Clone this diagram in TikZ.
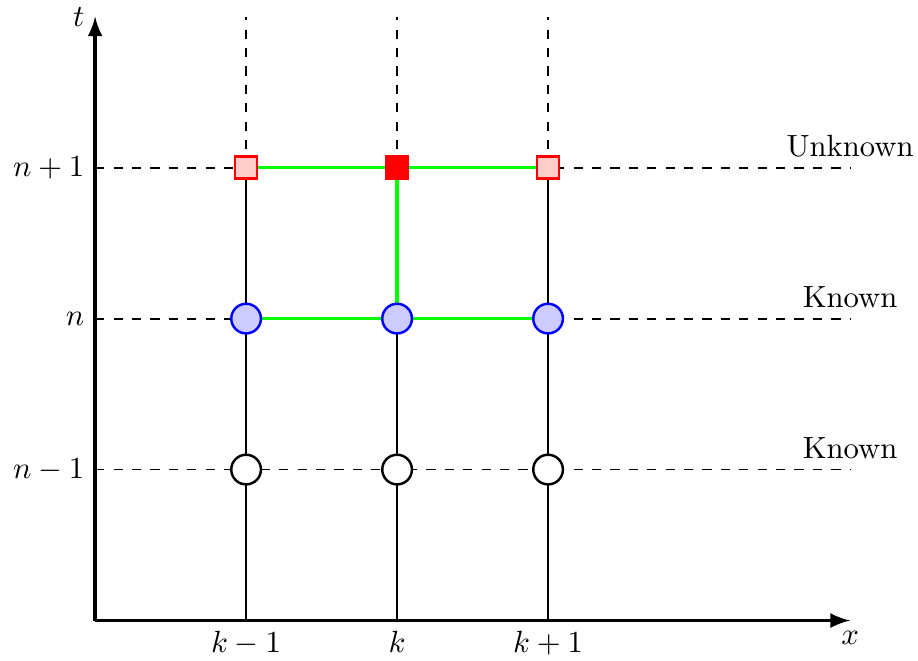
\documentclass[tikz,border=0pt]{standalone}
\usepackage{amsmath}

\begin{document}
\begin{tikzpicture}[x=1.73cm, y=1.73cm,
        axis/.style={very thick, -latex},
        level/.style={semithick, dashed},
        stencil/.style={green, very thick},
        old/.style={circle, draw, thick, fill=white, minimum size=0.34cm, inner sep=0pt},
        known/.style={circle, draw=blue, thick, fill=blue!20, minimum size=0.34cm, inner sep=0pt},
        unknown/.style={rectangle, draw=red, thick, fill=red!20, minimum size=0.25cm, inner sep=0pt},
        target/.style={rectangle, draw=red, fill=red, minimum size=0.27cm, inner sep=0pt}]
    \useasboundingbox (-0.63,-0.265) rectangle (5.45,4.11);
    % grid points
    \foreach \i in {1,2,3}
        \foreach \j in {0,1,2,3,4}
            \coordinate (p\i\j) at (\i,\j);
    \coordinate (O) at (0,0);
    \coordinate (xe) at (5,0);
    \coordinate (te) at (0,4);
    \foreach \j in {1,2,3} {
        \coordinate (l\j) at (0,\j);
        \coordinate (r\j) at (5,\j);
    }
    % time levels
    \draw[level] (l1) -- (r1);
    \draw[level] (l2) -- (r2);
    \draw[level] (l3) -- (r3);
    \node[above] (lab1) at (r1) {Known};
    \node[above] (lab2) at (r2) {Known};
    \node[above] (lab3) at (r3) {Unknown};
    \node[left] (n1) at (l1) {$n-1$};
    \node[left] (n2) at (l2) {$n$};
    \node[left] (n3) at (l3) {$n+1$};
    % space points
    \foreach \i in {1,2,3} {
        \draw[semithick] (p\i0) -- (p\i3);
        \draw[thin, dashed] (p\i3) -- (p\i4);
    }
    \node[below] (k1) at (p10) {$k-1$};
    \node[below] (k2) at (p20) {$k$};
    \node[below] (k3) at (p30) {$k+1$};
    % stencil
    \draw[stencil] (p13) -- (p33) (p23) -- (p22) (p12) -- (p32);
    % axes
    \draw[axis] (O) -- (xe);
    \draw[axis] (O) -- (te);
    \node[below] (xlab) at (xe) {$x$};
    \node[left] (tlab) at (te) {$t$};
    % unknowns and knowns
    \node[old] (a1) at (p11) {};
    \node[old] (a2) at (p21) {};
    \node[old] (a3) at (p31) {};
    \node[known] (b1) at (p12) {};
    \node[known] (b2) at (p22) {};
    \node[known] (b3) at (p32) {};
    \node[unknown] (c1) at (p13) {};
    \node[target] (c2) at (p23) {};
    \node[unknown] (c3) at (p33) {};
\end{tikzpicture}
\end{document}
